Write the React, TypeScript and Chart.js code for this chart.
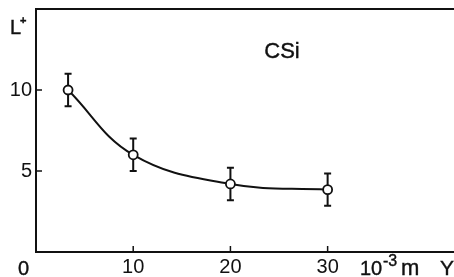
import React, { useEffect, useRef } from "react";
import { Chart, registerables } from "chart.js";

Chart.register(...registerables);

const xValues = [3.3, 10, 20, 30];
const yValues = [10, 6, 4.2, 3.85];
const errLow = [9.0, 5.0, 3.2, 2.85];
const errHigh = [11.0, 7.0, 5.2, 4.85];
const xTickLabels = [10, 20, 30];
const yTickLabels = [5, 10];
const sampleLabel = "CSi";
const yAxisTitle = "L";
const xUnit = "10";

const FONT = "'Liberation Sans', Arial, sans-serif";
const INK = "#111";

const decorPlugin = {
  id: "decor",
  beforeDatasetsDraw(chart: any) {
    const { ctx, chartArea, scales } = chart;
    const xs = scales.x;
    const ys = scales.y;
    ctx.save();
    ctx.strokeStyle = INK;
    ctx.lineWidth = 2;
    ctx.beginPath();
    ctx.moveTo(chartArea.left - 1, chartArea.top);
    ctx.lineTo(chartArea.right, chartArea.top);
    ctx.stroke();
    ctx.lineWidth = 1.5;
    yTickLabels.forEach((v) => {
      const py = ys.getPixelForValue(v);
      ctx.beginPath();
      ctx.moveTo(chartArea.left, py);
      ctx.lineTo(chartArea.left + 6, py);
      ctx.stroke();
    });
    xTickLabels.forEach((v) => {
      const px = xs.getPixelForValue(v);
      ctx.beginPath();
      ctx.moveTo(px, chartArea.bottom);
      ctx.lineTo(px, chartArea.bottom - 6);
      ctx.stroke();
    });
    ctx.lineWidth = 2;
    xValues.forEach((xv, i) => {
      const px = xs.getPixelForValue(xv);
      const lo = ys.getPixelForValue(errLow[i]);
      const hi = ys.getPixelForValue(errHigh[i]);
      ctx.beginPath();
      ctx.moveTo(px, lo);
      ctx.lineTo(px, hi);
      ctx.moveTo(px - 3.5, lo);
      ctx.lineTo(px + 3.5, lo);
      ctx.moveTo(px - 3.5, hi);
      ctx.lineTo(px + 3.5, hi);
      ctx.stroke();
    });
    ctx.restore();
  },
  afterDraw(chart: any) {
    const { ctx } = chart;
    ctx.save();
    ctx.fillStyle = INK;
    ctx.strokeStyle = INK;
    ctx.lineWidth = 0.4;
    ctx.textBaseline = "alphabetic";
    const txt = (s: string, x: number, y: number) => {
      ctx.fillText(s, x, y);
      ctx.strokeText(s, x, y);
    };
    ctx.font = `20px ${FONT}`;
    ctx.textAlign = "left";
    txt(yAxisTitle, 10, 34);
    ctx.font = `bold 11px ${FONT}`;
    txt("+", 20, 24);
    ctx.font = `20px ${FONT}`;
    txt("0", 18, 275);
    txt(xUnit, 360, 275);
    ctx.font = `16px ${FONT}`;
    txt("-3", 383, 266);
    ctx.font = `22px ${FONT}`;
    txt("m", 401, 275);
    ctx.font = `21px ${FONT}`;
    txt("Y", 440, 275);
    ctx.font = `22px ${FONT}`;
    ctx.textAlign = "center";
    txt(sampleLabel, 282, 58);
    ctx.restore();
  },
};

export default function App() {
  const ref = useRef<HTMLCanvasElement>(null);
  useEffect(() => {
    if (!ref.current) return;
    const chart = new Chart(ref.current, {
      type: "scatter",
      data: {
        datasets: [
          {
            data: xValues.map((x, i) => ({ x, y: yValues[i] })),
            showLine: true,
            tension: 0.4,
            borderColor: INK,
            borderWidth: 2,
            pointRadius: 4.5,
            pointBackgroundColor: "#fff",
            pointBorderColor: INK,
            pointBorderWidth: 1.8,
          } as any,
        ],
      },
      options: {
        animation: false,
        responsive: false,
        events: [],
        layout: { autoPadding: false, padding: { top: 9, right: 0, left: 0, bottom: 0 } },
        plugins: { legend: { display: false }, tooltip: { enabled: false } },
        scales: {
          x: {
            type: "linear",
            min: 0,
            max: 43,
            grid: { display: false, drawTicks: false },
            border: { display: true, color: INK, width: 2 },
            afterFit: (s: any) => {
              s.height = 25;
              s.paddingLeft = 0;
              s.paddingRight = 0;
            },
            afterBuildTicks: (s: any) => {
              s.ticks = xTickLabels.map((v) => ({ value: v }));
            },
            ticks: {
              autoSkip: false,
              maxRotation: 0,
              padding: 3,
              color: INK,
              font: { family: FONT, size: 20 },
            },
          },
          y: {
            type: "linear",
            min: 0,
            max: 15,
            grid: { display: false, drawTicks: false },
            border: { display: true, color: INK, width: 2 },
            afterFit: (s: any) => {
              s.width = 36;
              s.paddingTop = 0;
              s.paddingBottom = 0;
            },
            afterBuildTicks: (s: any) => {
              s.ticks = yTickLabels.map((v) => ({ value: v }));
            },
            ticks: {
              autoSkip: false,
              padding: 4,
              color: INK,
              font: { family: FONT, size: 20 },
            },
          },
        },
      },
      plugins: [decorPlugin],
    });
    return () => chart.destroy();
  }, []);
  return (
    <div style={{ position: "fixed", left: 0, top: 0, width: 454, height: 277, background: "#fff" }}>
      <canvas ref={ref} width={454} height={277} style={{ display: "block" }} />
    </div>
  );
}
